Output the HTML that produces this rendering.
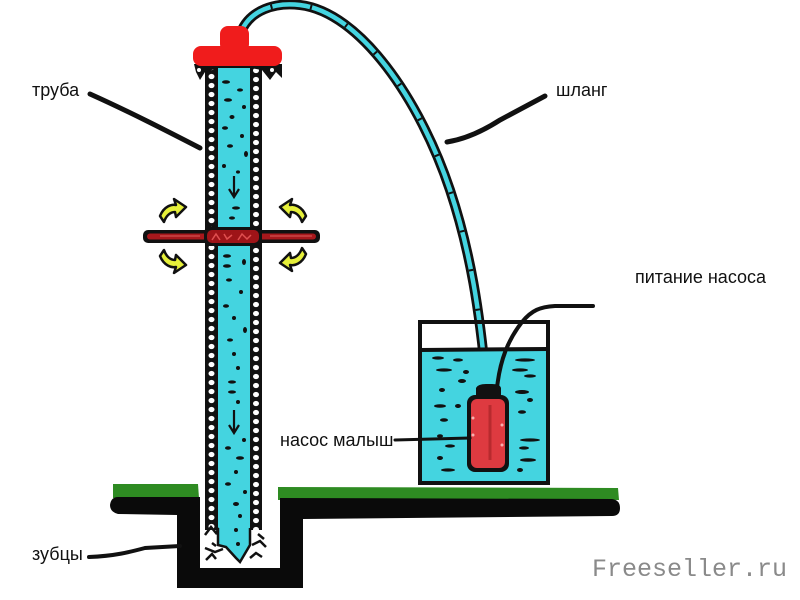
<!DOCTYPE html>
<html>
<head>
<meta charset="utf-8">
<style>
  html,body{margin:0;padding:0;background:#fff;}
  body{width:800px;height:600px;overflow:hidden;}
  svg{display:block;}
  .lbl{font-family:"Liberation Sans","DejaVu Sans",sans-serif;font-size:18px;fill:#111;}
  .wm{font-family:"Liberation Mono","DejaVu Sans Mono",monospace;font-size:25px;fill:#8a8a8a;}
</style>
</head>
<body>
<svg width="800" height="600" viewBox="0 0 800 600" xmlns="http://www.w3.org/2000/svg">
  <defs>
    <pattern id="dotsL" x="205" y="0" width="13" height="9" patternUnits="userSpaceOnUse">
      <rect width="13" height="9" fill="#111"/>
      <ellipse cx="6.5" cy="4.5" rx="3" ry="2.6" fill="#fff"/>
    </pattern>
    <pattern id="dotsR" x="250" y="3" width="12" height="9" patternUnits="userSpaceOnUse">
      <rect width="12" height="9" fill="#111"/>
      <ellipse cx="6" cy="4.5" rx="3" ry="2.6" fill="#fff"/>
    </pattern>
  </defs>

  <!-- ground green -->
  <path d="M113,484 L198,484 L199,498 L113,498 Z" fill="#2e8b22"/>
  <path d="M278,487 L618,488 L619,500 L278,500 Z" fill="#2e8b22"/>
  <!-- ground black / pit -->
  <path d="M118,497 L200,497 L200,568 L280,568 L280,498 L612,499 Q620,500 620,508 Q620,516 612,516 L303,519 L303,588 L177,588 L177,515 L118,514 Q110,512 110,505 Q111,497 118,497 Z" fill="#0a0a0a"/>

  <!-- pipe -->
  <rect x="205" y="65" width="13" height="470" fill="url(#dotsL)"/>
  <rect x="250" y="65" width="12" height="470" fill="url(#dotsR)"/>
  <rect x="218" y="65" width="32" height="470" fill="#44d4e0"/>
  <!-- pipe bottom teeth area -->
  <path d="M203,530 L262,530 L270,535 L270,566 L203,566 Z" fill="#fff"/>
  <path d="M205,535 l6,-8 l5,6 l3,-5 M205,548 l10,4 l8,-3 M206,560 l6,-6 l4,5 M252,545 l8,-4 l6,6 M250,558 l6,-5 l6,4 M258,534 l6,5 M212,543 l4,3" stroke="#111" stroke-width="2.5" fill="none"/>
  <path d="M218,528 L250,528 L250,545 L240,562 L236,558 L226,547 L218,545 Z" fill="#44d4e0"/>
  <path d="M218,528 L218,545 L226,547 L236,558 L240,562 L250,545 L250,528" stroke="#111" stroke-width="2.5" fill="none"/>

  <!-- water dashes in pipe -->
  <g fill="#111">
    <ellipse cx="226" cy="82" rx="4" ry="1.8"/><ellipse cx="240" cy="90" rx="3" ry="1.6"/>
    <ellipse cx="228" cy="100" rx="4" ry="1.8"/><ellipse cx="244" cy="107" rx="2" ry="2"/>
    <ellipse cx="232" cy="117" rx="2.5" ry="2"/><ellipse cx="225" cy="128" rx="3" ry="1.8"/>
    <ellipse cx="242" cy="136" rx="2" ry="2"/><ellipse cx="230" cy="146" rx="3" ry="1.8"/>
    <ellipse cx="246" cy="154" rx="2" ry="3"/><ellipse cx="224" cy="166" rx="2" ry="2"/>
    <ellipse cx="238" cy="172" rx="2" ry="1.6"/>
    <ellipse cx="236" cy="208" rx="4" ry="1.6"/><ellipse cx="232" cy="218" rx="3" ry="1.6"/>
    <ellipse cx="227" cy="256" rx="4" ry="1.8"/><ellipse cx="227" cy="266" rx="4" ry="1.8"/>
    <ellipse cx="244" cy="262" rx="2" ry="3"/><ellipse cx="229" cy="280" rx="3" ry="1.6"/>
    <ellipse cx="241" cy="292" rx="2" ry="2"/><ellipse cx="226" cy="306" rx="3" ry="1.8"/>
    <ellipse cx="234" cy="318" rx="2" ry="2"/><ellipse cx="245" cy="330" rx="2" ry="3"/>
    <ellipse cx="230" cy="340" rx="3" ry="1.6"/><ellipse cx="234" cy="354" rx="2" ry="2"/>
    <ellipse cx="238" cy="368" rx="2" ry="2"/><ellipse cx="232" cy="382" rx="4" ry="1.6"/>
    <ellipse cx="232" cy="392" rx="4" ry="1.6"/><ellipse cx="238" cy="402" rx="2" ry="2"/>
    <ellipse cx="244" cy="440" rx="2" ry="2"/><ellipse cx="228" cy="448" rx="3" ry="1.8"/>
    <ellipse cx="240" cy="458" rx="4" ry="1.8"/><ellipse cx="236" cy="472" rx="2" ry="2"/>
    <ellipse cx="228" cy="484" rx="3" ry="1.8"/><ellipse cx="245" cy="492" rx="2" ry="2"/>
    <ellipse cx="236" cy="504" rx="3" ry="2"/><ellipse cx="240" cy="516" rx="2" ry="2"/>
    <ellipse cx="236" cy="530" rx="2" ry="2"/><ellipse cx="238" cy="544" rx="2" ry="2"/>
  </g>
  <!-- down arrows in pipe -->
  <path d="M234,176 L234,196 M229,189 L234,197 L239,189" stroke="#111" stroke-width="2.2" fill="none"/>
  <path d="M234,410 L234,432 M229,425 L234,433 L239,425" stroke="#111" stroke-width="2.2" fill="none"/>

  <!-- speckle under cap -->
  <path d="M194,64 L282,64 L282,78 L276,72 L270,80 L262,70 L250,68 L218,68 L205,72 L200,80 L196,72 Z" fill="#111"/>
  <circle cx="199" cy="70" r="2" fill="#fff"/><circle cx="272" cy="70" r="2" fill="#fff"/>

  <!-- hose -->
  <path id="hose" d="M241,32 C250,10 275,2 300,5 C360,12 420,100 450,190 C470,250 480,310 487,392" stroke="#111" stroke-width="10" fill="none" stroke-linecap="round"/>
  <path d="M241,32 C250,10 275,2 300,5 C360,12 420,100 450,190 C470,250 480,310 487,392" stroke="#44d4e0" stroke-width="4.5" fill="none"/>
  <path d="M241,32 C250,10 275,2 300,5 C360,12 420,100 450,190 C470,250 480,310 487,392" stroke="#111" stroke-width="4.5" fill="none" stroke-dasharray="2 38"/>

  <!-- red cap -->
  <rect x="193" y="46" width="89" height="20" rx="8" fill="#f01c1c"/>
  <rect x="220" y="26" width="29" height="26" rx="8" fill="#f01c1c"/>

  <!-- clamp bar -->
  <rect x="143" y="230" width="177" height="13" rx="5" fill="#111"/>
  <rect x="147" y="233.5" width="169" height="6" rx="3" fill="#a8181c"/>
  <rect x="204" y="227" width="58" height="19" rx="6" fill="#111"/>
  <rect x="207" y="230" width="52" height="13" rx="5" fill="#9e1418"/>
  <path d="M212,240 l4,-6 l4,6 M224,234 l3,5 l5,-4 M238,240 l4,-6 l5,5 l4,-4" stroke="#e05050" stroke-width="1.5" fill="none"/>
  <path d="M160,236 L200,236 M270,236 L312,236" stroke="#d05050" stroke-width="1.3"/>

  <!-- yellow arrows -->
  <g fill="#e6f03a" stroke="#111" stroke-width="2.5" stroke-linejoin="round">
    <path d="M160,216 C164,206 172,204 176,205 L174,199 L186,207 L176,217 L175,212 C170,212 166,216 164,222 Z"/>
    <path d="M306,216 C302,206 294,204 290,205 L292,199 L280,207 L290,217 L291,212 C296,212 300,216 302,222 Z"/>
    <path d="M160,256 C164,266 172,268 176,267 L174,273 L186,265 L176,255 L175,260 C170,260 166,256 164,250 Z"/>
    <path d="M306,254 C302,264 294,266 290,265 L292,271 L280,263 L290,253 L291,258 C296,258 300,254 302,248 Z"/>
  </g>

  <!-- tank -->
  <rect x="422" y="348" width="124" height="133" fill="#44d4e0"/>
  <path d="M420,322 L548,322 L548,483 L420,483 Z" stroke="#111" stroke-width="4" fill="none"/>
  <path d="M420,350 L548,349" stroke="#111" stroke-width="4"/>
  <g fill="#111">
    <ellipse cx="438" cy="358" rx="6" ry="1.6"/><ellipse cx="458" cy="360" rx="5" ry="1.6"/>
    <ellipse cx="444" cy="370" rx="8" ry="1.6"/><ellipse cx="466" cy="372" rx="3" ry="2"/>
    <ellipse cx="462" cy="381" rx="4" ry="2"/><ellipse cx="442" cy="390" rx="3" ry="2"/>
    <ellipse cx="440" cy="406" rx="6" ry="1.8"/><ellipse cx="458" cy="406" rx="3" ry="2"/>
    <ellipse cx="444" cy="420" rx="4" ry="1.8"/><ellipse cx="440" cy="436" rx="3" ry="1.8"/>
    <ellipse cx="450" cy="446" rx="5" ry="1.6"/><ellipse cx="440" cy="458" rx="3" ry="2"/>
    <ellipse cx="448" cy="470" rx="7" ry="1.6"/>
    <ellipse cx="525" cy="360" rx="10" ry="1.6"/><ellipse cx="520" cy="370" rx="8" ry="1.6"/>
    <ellipse cx="530" cy="376" rx="6" ry="1.6"/><ellipse cx="522" cy="392" rx="7" ry="2"/>
    <ellipse cx="530" cy="400" rx="3" ry="2"/><ellipse cx="522" cy="412" rx="4" ry="1.8"/>
    <ellipse cx="530" cy="440" rx="10" ry="1.6"/><ellipse cx="524" cy="448" rx="5" ry="1.6"/>
    <ellipse cx="528" cy="460" rx="8" ry="1.8"/><ellipse cx="520" cy="470" rx="3" ry="2"/>
  </g>

  <!-- power cable -->
  <path d="M497,388 C500,360 508,340 522,322 C532,310 540,307 555,306 L593,306" stroke="#111" stroke-width="4" fill="none" stroke-linecap="round"/>

  <!-- pump -->
  <path d="M476,398 L476,388 Q478,384 486,384 L492,384 Q500,384 501,388 L501,398 Z" fill="#111"/>
  <rect x="467" y="395" width="42" height="77" rx="8" fill="#111"/>
  <rect x="471" y="399" width="34" height="69" rx="6" fill="#de3a40"/>
  <path d="M490,405 L490,460" stroke="#b82a2e" stroke-width="3"/>
  <g fill="#f7b0b0"><circle cx="473" cy="418" r="1.5"/><circle cx="473" cy="435" r="1.5"/><circle cx="502" cy="425" r="1.5"/><circle cx="502" cy="445" r="1.5"/></g>

  <!-- label leaders -->
  <path d="M90,94 C130,112 165,130 200,148" stroke="#111" stroke-width="5" fill="none" stroke-linecap="round"/>
  <path d="M447,142 Q472,138 500,120 L545,96" stroke="#111" stroke-width="5" fill="none" stroke-linecap="round"/>
  <path d="M395,440 L470,438" stroke="#111" stroke-width="3" fill="none" stroke-linecap="round"/>
  <path d="M89,557 C115,556 130,552 145,548 L180,546" stroke="#111" stroke-width="4" fill="none" stroke-linecap="round"/>

  <!-- labels -->
  <text class="lbl" x="32" y="96">труба</text>
  <text class="lbl" x="556" y="96">шланг</text>
  <text class="lbl" x="635" y="283">питание насоса</text>
  <text class="lbl" x="280" y="446">насос малыш</text>
  <text class="lbl" x="32" y="560">зубцы</text>

  <!-- watermark -->
  <text class="wm" x="592" y="576">Freeseller.ru</text>
</svg>
</body>
</html>
